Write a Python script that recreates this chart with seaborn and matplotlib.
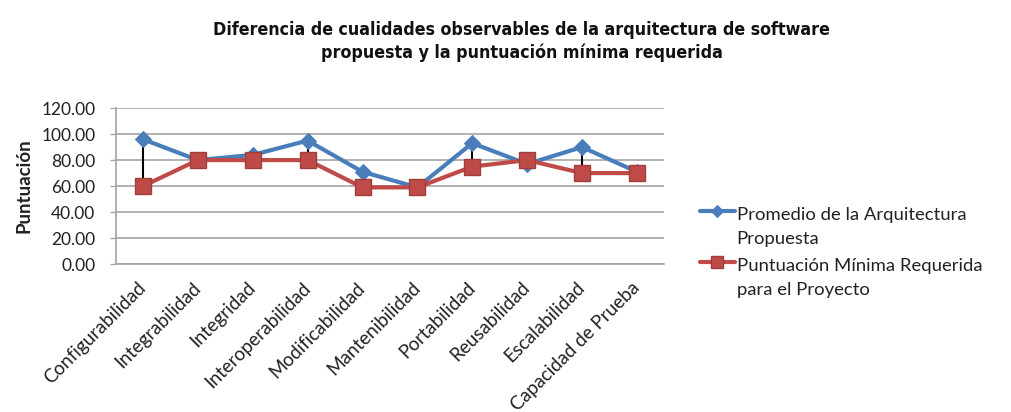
import matplotlib
matplotlib.use("Agg")
import matplotlib.pyplot as plt
from matplotlib.legend_handler import HandlerLine2D
import seaborn as sns
import pandas as pd
import numpy as np

categories = ["Configurabilidad", "Integrabilidad", "Integridad", "Interoperabilidad",
              "Modificabilidad", "Mantenibilidad", "Portabilidad", "Reusabilidad",
              "Escalabilidad", "Capacidad de Prueba"]
promedio = [96, 80, 84, 95, 71, 59, 93, 77, 90, 71]
minima = [60, 80, 80, 80, 59, 59, 75, 80, 70, 70]
yticks = [0, 20, 40, 60, 80, 100, 120]
series_names = ["Promedio de la Arquitectura\nPropuesta",
                "Puntuación Mínima Requerida\npara el Proyecto"]


class FirstLineHandler(HandlerLine2D):
    def create_artists(self, legend, orig_handle, xdescent, ydescent, width,
                       height, fontsize, trans):
        arts = super().create_artists(legend, orig_handle, xdescent, ydescent,
                                      width, height, fontsize, trans)
        for a in arts:
            a.set_ydata(np.asarray(a.get_ydata(), dtype=float) + 0.88 * fontsize)
        return arts


sns.set_theme(style="white")
plt.rcParams['font.family'] = ['Lato', 'DejaVu Sans']

fig = plt.figure(figsize=(10.11, 4.12), dpi=100)
ax = fig.add_axes([0.1143, 0.359, 0.5428, 0.3786])

df = pd.DataFrame({"cat": categories, "prom": promedio, "min": minima})

# high-low lines
ax.vlines(range(len(categories)), df["min"], df["prom"], color="black", lw=1.5, zorder=1)

blue = "#4A7EBB"
red = "#BE4B48"
sns.lineplot(data=df, x="cat", y="prom", ax=ax, color=blue, lw=3, marker="D",
             markersize=8, markeredgecolor=blue, sort=False, label=series_names[0], zorder=2)
sns.lineplot(data=df, x="cat", y="min", ax=ax, color=red, lw=3, marker="s",
             markersize=12, markeredgecolor="#A03E3B", markeredgewidth=1, sort=False,
             label=series_names[1], zorder=3)

ax.set_ylim(0, 120)
ax.set_xlim(-0.5, len(categories) - 0.5)
ax.set_yticks(yticks)
ax.set_yticklabels([f"{v:.2f}" for v in yticks], fontsize=12.5, color="#222222")
ax.set_xticks(range(len(categories)))
ax.set_xticklabels(categories, rotation=45, ha="right", va="center",
                   rotation_mode="anchor", fontsize=13.5, color="#222222")
ax.tick_params(axis="x", pad=15, length=0)
ax.tick_params(axis="y", pad=10.5, length=4, width=1, color="#A6A6A6", direction="out", left=True)
ax.yaxis.grid(True, color="#ABABAB", lw=1.3)
ax.xaxis.grid(False)
for s in ["top", "right"]:
    ax.spines[s].set_visible(False)
ax.spines["left"].set_color("#A6A6A6")
ax.spines["bottom"].set_color("#A6A6A6")
ax.set_xlabel("")
ax.set_ylabel("Puntuación", fontsize=13.5, fontweight="bold", labelpad=6, color="#222222")

handles, labels = ax.get_legend_handles_labels()
leg = ax.legend(handles, labels, loc="upper left", bbox_to_anchor=(0.692, 0.498),
                bbox_transform=fig.transFigure, frameon=False, fontsize=13.3,
                handlelength=1.9, handletextpad=0.1, labelspacing=0.62, markerscale=0.75,
                borderpad=0, borderaxespad=0, labelcolor="#222222",
                handler_map={h: FirstLineHandler() for h in handles})
for t in leg.get_texts():
    t.set_linespacing(1.6)

fig.text(0.516, 0.9, "Diferencia de cualidades observables de la arquitectura de software\n"
         "propuesta y la puntuación mínima requerida",
         ha="center", va="center", fontsize=12.8, fontweight="bold", fontstretch="condensed",
         family=["DejaVu Sans", "Liberation Sans"], linespacing=1.3, color="#111111")

fig.savefig("out.png", dpi=100)
